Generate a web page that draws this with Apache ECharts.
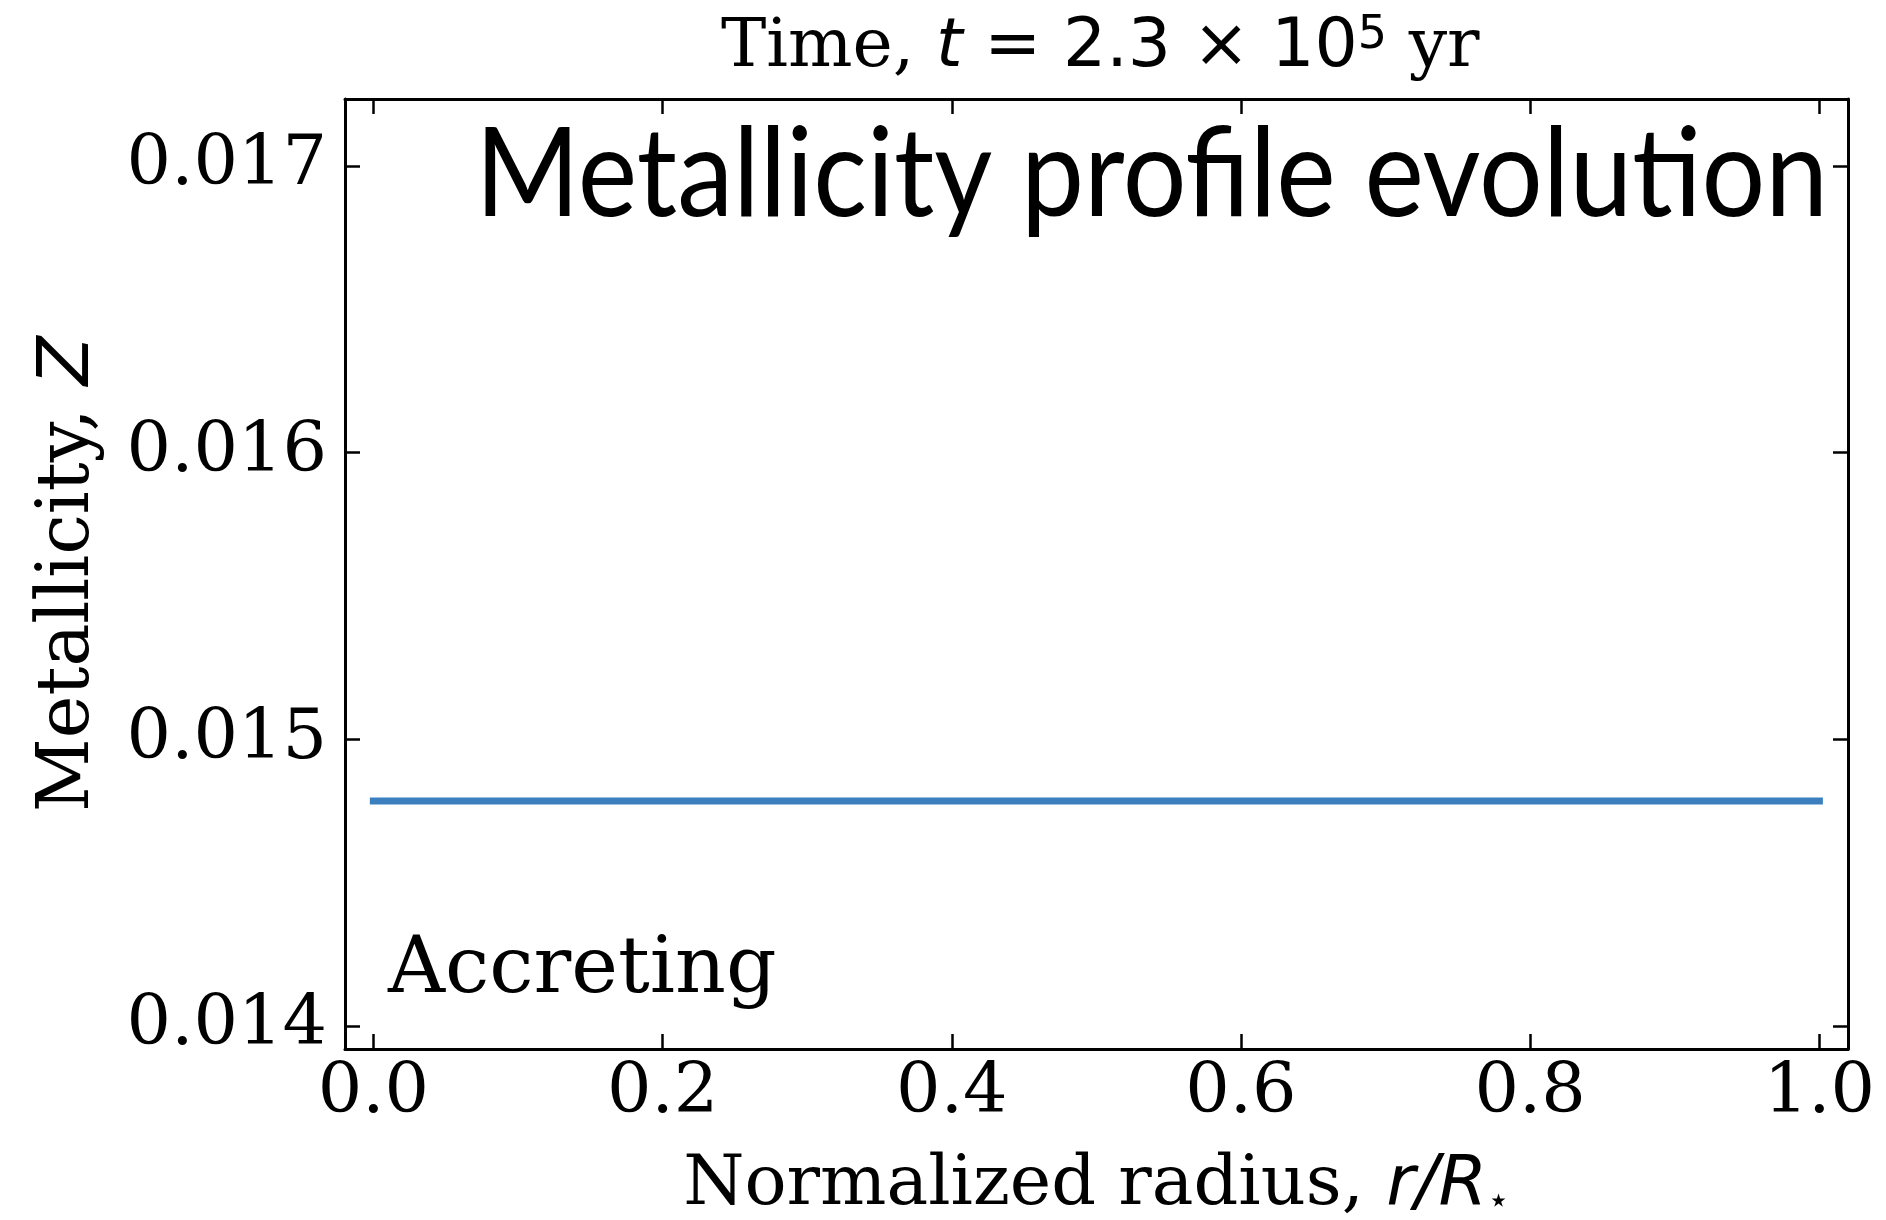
<!DOCTYPE html>
<html>
<head>
<meta charset="utf-8">
<title>Metallicity profile evolution</title>
<script src="https://cdn.jsdelivr.net/npm/echarts@6/dist/echarts.min.js"></script>
<style>
html, body { margin: 0; padding: 0; background: #fff; }
#chart { width: 1886px; height: 1220px; }
</style>
</head>
<body>
<div id="chart"></div>
<script>
// data
var radius = [0.0, 1.0];
var metallicity = [0.014785, 0.014785];
var xTicks = [0.0, 0.2, 0.4, 0.6, 0.8, 1.0];
var yTicks = [0.014, 0.015, 0.016, 0.017];

var SERIF = 'DejaVu Serif';
var SANS = 'DejaVu Sans';

var lineData = radius.map(function (r, i) { return [r, metallicity[i]]; });

function tickAxis() {
    return {
        axisLine: { show: true, onZero: false, lineStyle: { color: '#000', width: 3 } },
        axisTick: { show: true, inside: true, length: 15, lineStyle: { color: '#000', width: 2.5 } },
        splitLine: { show: false }
    };
}

var xBottom = tickAxis();
xBottom.type = 'value';
xBottom.min = -0.0196;
xBottom.max = 1.0198;
xBottom.position = 'bottom';
xBottom.axisTick.customValues = xTicks;
xBottom.axisLabel = {
    customValues: xTicks, margin: 10, color: '#000', fontFamily: SERIF, fontSize: 70,
    formatter: function (v) { return v.toFixed(1); }
};
xBottom.name = '{s|Normalized radius, }{mi|r/R}{sub|⋆}';
xBottom.nameLocation = 'middle';
xBottom.nameGap = 102;
xBottom.nameTextStyle = {
    rich: {
        s: { fontFamily: SERIF, fontSize: 70, color: '#000', lineHeight: 70 },
        mi: { fontFamily: SANS, fontStyle: 'italic', fontSize: 70, color: '#000', lineHeight: 70 },
        sub: { fontFamily: SANS, fontSize: 36, color: '#000', lineHeight: 36, verticalAlign: 'bottom' }
    }
};

var xTop = tickAxis();
xTop.type = 'value';
xTop.min = -0.0196;
xTop.max = 1.0198;
xTop.position = 'top';
xTop.axisTick.customValues = xTicks;
xTop.axisLabel = { show: false };

var yLeft = tickAxis();
yLeft.type = 'value';
yLeft.min = 0.0139198;
yLeft.max = 0.0172337;
yLeft.position = 'left';
yLeft.axisTick.customValues = yTicks;
yLeft.axisLabel = {
    customValues: yTicks, margin: 18, color: '#000', fontFamily: SERIF, fontSize: 70,
    formatter: function (v) { return v.toFixed(3); }
};
yLeft.name = '{s|Metallicity, }{mi|Z}';
yLeft.nameLocation = 'middle';
yLeft.nameGap = 240;
yLeft.nameTextStyle = {
    rich: {
        s: { fontFamily: SERIF, fontSize: 72, color: '#000' },
        mi: { fontFamily: SANS, fontStyle: 'italic', fontSize: 72, color: '#000' }
    }
};

var yRight = tickAxis();
yRight.type = 'value';
yRight.min = 0.0139198;
yRight.max = 0.0172337;
yRight.position = 'right';
yRight.axisTick.customValues = yTicks;
yRight.axisLabel = { show: false };

var option = {
    animation: false,
    backgroundColor: '#fff',
    title: {
        text: '{s|Time, }{mi|t}{m| = 2.3 × 10}{sup|5}{s| yr}',
        left: 716,
        top: 8,
        textStyle: {
            fontWeight: 'normal',
            rich: {
                s: { fontFamily: SERIF, fontWeight: 'normal', fontSize: 68, color: '#000', lineHeight: 70 },
                mi: { fontFamily: SANS, fontWeight: 'normal', fontStyle: 'italic', fontSize: 68, color: '#000', lineHeight: 70 },
                m: { fontFamily: SANS, fontWeight: 'normal', fontSize: 68, color: '#000', lineHeight: 70 },
                sup: { fontFamily: SANS, fontWeight: 'normal', fontSize: 46, color: '#000', lineHeight: 46, verticalAlign: 'top' }
            }
        }
    },
    grid: { left: 345, right: 38, top: 99, bottom: 171, containLabel: false, outerBoundsMode: 'none' },
    xAxis: [xBottom, xTop],
    yAxis: [yLeft, yRight],
    series: [{
        type: 'line',
        data: lineData,
        showSymbol: false,
        lineStyle: { color: '#3b7fbf', width: 7, cap: 'square' }
    }],
    graphic: [
        {
            type: 'text',
            x: 1828, y: 238,
            scaleX: 0.90,
            style: {
                text: 'Metallicity profile evolution',
                x: 0, y: 0,
                font: '125px Lato',
                fill: '#000',
                textAlign: 'right',
                textVerticalAlign: 'bottom'
            }
        },
        {
            type: 'text',
            x: 388, y: 1011,
            style: {
                text: 'Accreting',
                x: 0, y: 0,
                font: '79px "DejaVu Serif"',
                fill: '#000',
                textAlign: 'left',
                textVerticalAlign: 'bottom'
            }
        }
    ]
};

var myChart = echarts.init(document.getElementById('chart'));
myChart.setOption(option);
</script>
</body>
</html>
